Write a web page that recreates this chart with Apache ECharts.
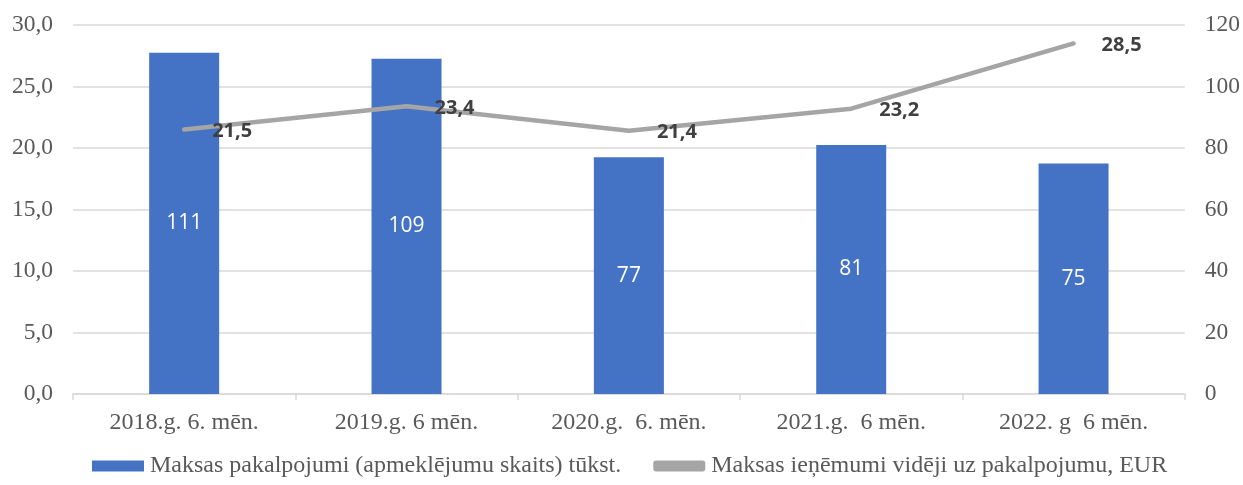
<!DOCTYPE html>
<html>
<head>
<meta charset="utf-8">
<script src="https://cdn.jsdelivr.net/npm/echarts@6/dist/echarts.min.js"></script>
<style>
  html, body { margin: 0; padding: 0; background: #fff; }
  #chart { width: 1243px; height: 485px; }
</style>
</head>
<body>
<div id="chart"></div>
<script>
// dati
var categories = ['2018.g. 6. mēn.', '2019.g. 6 mēn.', '2020.g.  6. mēn.', '2021.g.  6 mēn.', '2022. g  6 mēn.'];
var visits = [111, 109, 77, 81, 75];           // labā ass
var avgIncome = [21.5, 23.4, 21.4, 23.2, 28.5]; // kreisā ass
var barName = 'Maksas pakalpojumi (apmeklējumu skaits) tūkst.';
var lineName = 'Maksas ieņēmumi vidēji uz pakalpojumu, EUR';

var serif = '"Liberation Serif", "DejaVu Serif", serif';
var sans = '"Open Sans", "Noto Sans", sans-serif';

var chart = echarts.init(document.getElementById('chart'));

var option = {
    animation: false,
    grid: { left: 73, right: 58, top: 25, bottom: 91 },
    legend: {
        bottom: 2,
        left: 87,
        itemGap: 32,
        itemWidth: 52,
        itemHeight: 11,
        textStyle: { fontFamily: serif, fontSize: 24, color: '#595959', padding: [0, 0, 0, 1] },
        data: [
            { name: barName, icon: 'rect' },
            { name: lineName, icon: 'roundRect' }
        ]
    },
    xAxis: {
        type: 'category',
        data: categories,
        axisLine: { lineStyle: { color: '#D9D9D9', width: 1.5 } },
        axisTick: { show: true, length: 6, lineStyle: { color: '#D9D9D9', width: 1.5 } },
        axisLabel: { fontFamily: serif, fontSize: 24, color: '#595959', margin: 17 }
    },
    yAxis: [
        {
            type: 'value', min: 0, max: 30, interval: 5,
            axisLine: { show: false },
            axisTick: { show: false },
            splitLine: { lineStyle: { color: '#D9D9D9', width: 1.5 } },
            axisLabel: {
                fontFamily: serif, fontSize: 23.5, color: '#595959', margin: 20,
                formatter: function (v) { return v.toFixed(1).replace('.', ','); }
            }
        },
        {
            type: 'value', min: 0, max: 120, interval: 20,
            axisLine: { show: false },
            axisTick: { show: false },
            splitLine: { show: false },
            axisLabel: { fontFamily: serif, fontSize: 23.5, color: '#595959', margin: 20 }
        }
    ],
    series: [
        {
            name: barName,
            type: 'bar',
            yAxisIndex: 1,
            barWidth: 70,
            data: visits,
            itemStyle: { color: '#4472C4' },
            label: { show: true, position: 'inside', color: '#fff', fontFamily: sans, fontSize: 21 }
        },
        {
            name: lineName,
            type: 'line',
            yAxisIndex: 0,
            data: avgIncome,
            symbol: 'circle',
            symbolSize: 2,
            lineStyle: { color: '#A5A5A5', width: 4.5, cap: 'round', join: 'round' },
            itemStyle: { color: '#A5A5A5' },
            label: {
                show: true, position: 'right', distance: 27, offset: [0, 2],
                color: '#404040', fontFamily: sans, fontSize: 20, fontWeight: 'bold',
                formatter: function (p) { return p.value.toFixed(1).replace('.', ','); }
            },
            z: 5
        }
    ]
};
chart.setOption(option);
</script>
</body>
</html>
